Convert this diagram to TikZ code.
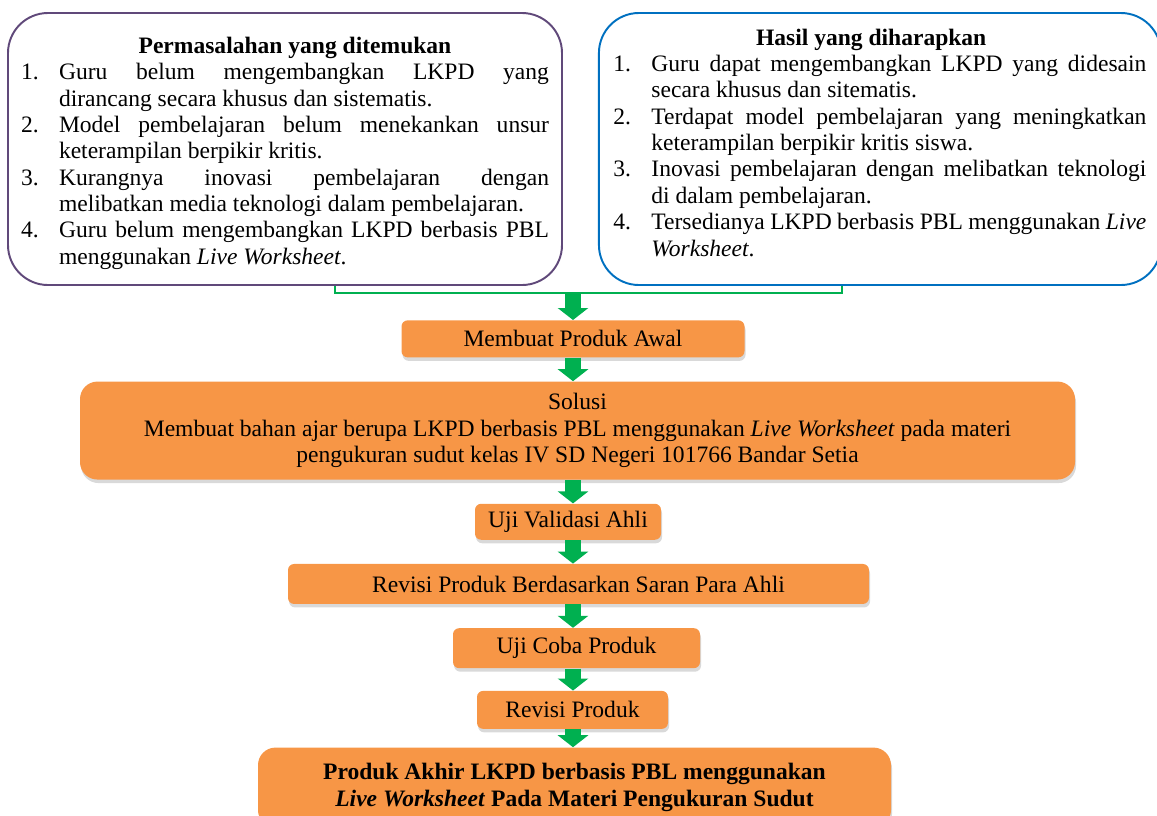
\documentclass[tikz,border=0pt]{standalone}
\usepackage{fontspec}
\setmainfont{Liberation Serif}
\usepackage{enumitem}
\usepackage{tikz}
\usetikzlibrary{arrows.meta,positioning,shadows}
\setlist[enumerate]{label=\arabic*., leftmargin=0.76cm, labelsep=0pt,
  labelwidth=0.76cm, align=left, nosep}
\newcommand{\boxfont}{\fontsize{13.4}{15}\selectfont}
\newcommand{\LW}{\textit{Live Worksheet}}
\newcommand{\taller}[1]{\rule{0pt}{#1}}
\newcommand{\deeper}[1]{\rule[-#1]{0pt}{#1}}
\definecolor{probline}{RGB}{96,73,122}
\definecolor{hasilline}{RGB}{0,112,192}
\definecolor{flowgreen}{RGB}{0,176,80}
\definecolor{procfill}{RGB}{247,150,70}

\begin{document}
\begin{tikzpicture}[
  node distance=4.7mm,
  topbox/.style={draw, line width=1.1pt, rounded corners=0.8cm, align=justify,
              font=\boxfont, inner ysep=0pt, minimum height=5.44cm},
  proc/.style={fill=procfill, rounded corners=3.5pt, align=center, font=\boxfont,
              inner sep=2pt, drop shadow={shadow xshift=0.6pt, shadow yshift=-2pt,
              opacity=0.3}},
  bigproc/.style={proc, rounded corners=0.35cm},
  brk/.style={draw=flowgreen, line width=1.2pt},
  arr/.style={-{Triangle[width=6mm, length=2.4mm]}, line width=3.2mm, draw=flowgreen}
]
\useasboundingbox (0,0) rectangle (23.14,-16.30);
\node[topbox, draw=probline, text width=10.56cm, inner xsep=0.26cm] (prob) at (5.70,-2.98)
  {{\centering\taller{14pt}\hspace*{0.4cm}\textbf{Permasalahan yang ditemukan}\par}
   \begin{enumerate}
   \item Guru belum mengembangkan LKPD yang\linebreak dirancang secara khusus dan sistematis.
   \item Model pembelajaran belum menekankan unsur\linebreak keterampilan berpikir kritis.
   \item Kurangnya inovasi pembelajaran dengan\linebreak melibatkan media teknologi dalam pembelajaran.
   \item Guru belum mengembangkan LKPD berbasis PBL\linebreak menggunakan \LW.
   \end{enumerate}};
\node[topbox, draw=hasilline, text width=10.66cm, inner xsep=0.29cm, right=0.7cm of prob] (hasil)
  {{\centering\textbf{Hasil yang diharapkan}\hspace*{0.35cm}\par}
   \begin{enumerate}
   \item Guru dapat mengembangkan LKPD yang didesain\linebreak secara khusus dan sitematis.
   \item Terdapat model pembelajaran yang meningkatkan\linebreak keterampilan berpikir kritis siswa.
   \item Inovasi pembelajaran dengan melibatkan teknologi\linebreak di dalam pembelajaran.
   \item Tersedianya LKPD berbasis PBL menggunakan \textit{Live}\linebreak
     \textit{Worksheet}.\deeper{7.5pt}
   \end{enumerate}};
\coordinate (join) at (11.46,-5.86);
\node[proc, minimum width=6.86cm, minimum height=0.74cm, below=5.4mm of join] (awal)
  {Membuat Produk Awal};
\node[bigproc, minimum width=19.9cm, minimum height=1.96cm, below=of awal, xshift=0.09cm] (solusi)
  {Solusi\\ Membuat bahan ajar berupa LKPD berbasis PBL menggunakan \LW{} pada materi\\
   pengukuran sudut kelas IV SD Negeri 101766 Bandar Setia};
\node[proc, minimum width=3.72cm, minimum height=0.72cm, below=of solusi, xshift=-0.19cm] (validasi)
  {Uji Validasi Ahli};
\node[proc, minimum width=11.62cm, minimum height=0.8cm, below=of validasi, xshift=0.21cm] (saran)
  {Revisi Produk Berdasarkan Saran Para Ahli};
\node[proc, minimum width=4.94cm, minimum height=0.8cm, below=of saran, xshift=-0.04cm] (coba)
  {Uji Coba Produk};
\node[proc, minimum width=3.82cm, minimum height=0.76cm, below=4.4mm of coba, xshift=-0.08cm] (revisi)
  {Revisi Produk};
\node[bigproc, minimum width=12.66cm, minimum height=1.6cm, below=3.6mm of revisi, xshift=0.04cm] (akhir)
  {\textbf{Produk Akhir LKPD berbasis PBL menggunakan}\\
   \textbf{\LW{} Pada Materi Pengukuran Sudut}};
\draw[brk] ([xshift=1cm]prob.south) |- (join) -| ([xshift=-0.76cm]hasil.south);
\draw[arr] (join) -- (join |- awal.north);
\draw[arr] (join |- awal.south) -- (join |- solusi.north);
\draw[arr] (join |- solusi.south) -- (join |- validasi.north);
\draw[arr] (join |- validasi.south) -- (join |- saran.north);
\draw[arr] (join |- saran.south) -- (join |- coba.north);
\draw[arr] (join |- coba.south) -- (join |- revisi.north);
\draw[arr] (join |- revisi.south) -- (join |- akhir.north);
\end{tikzpicture}
\end{document}
